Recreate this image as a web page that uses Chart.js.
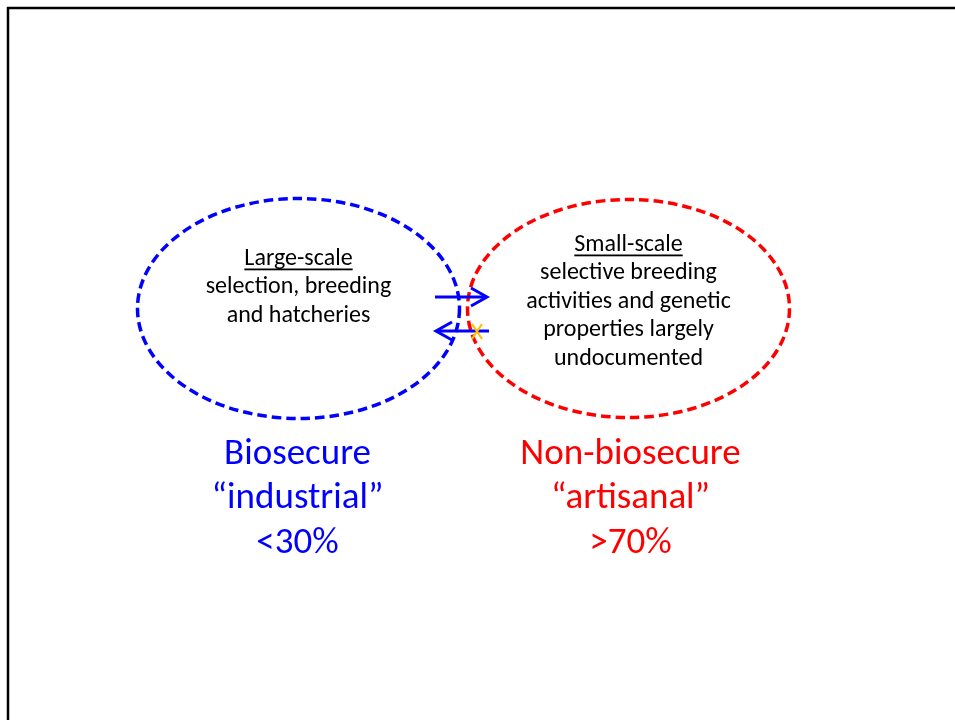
<!DOCTYPE html>
<html>
<head>
<meta charset="utf-8">
<script src="https://cdn.jsdelivr.net/npm/chart.js@4"></script>
<style>
  html, body { margin: 0; padding: 0; background: #ffffff; }
  #wrap { position: relative; width: 955px; height: 720px; }
</style>
</head>
<body>
<div id="wrap"><canvas id="c" width="955" height="720"></canvas></div>
<script>
// ---- data ----
const groups = ['Biosecure', 'Non-biosecure'];
const groupQualifiers = ['\u201Cindustrial\u201D', '\u201Cartisanal\u201D'];
const shares = ['<30%', '>70%'];
const scaleHeadings = ['Large-scale', 'Small-scale'];
const descriptions = [
  ['selection, breeding', 'and hatcheries'],
  ['selective breeding', 'activities and genetic', 'properties largely', 'undocumented']
];

// ---- layout / style (not data) ----
const FONT = 'Carlito, Calibri, Lato, "Open Sans", sans-serif';
const groupColors = ['#0000FF', '#FF0000'];
const ellipses = [
  { cx: 298.5, cy: 308.5, rx: 161, ry: 110 },
  { cx: 628.5, cy: 308.5, rx: 161, ry: 109 }
];
const innerTop = [258.5, 244.5];
const innerStep = 28.5;
const labelTop = 454.5;
const labelStep = 44.5;

const diagramPlugin = {
  id: 'diagram',
  afterDraw(chart) {
    const ctx = chart.ctx;
    const xs = chart.scales.x, ys = chart.scales.y;
    const px = v => xs.getPixelForValue(v);
    const py = v => ys.getPixelForValue(v);
    ctx.save();

    // slide frame
    ctx.strokeStyle = '#000000';
    ctx.lineWidth = 2.5;
    ctx.setLineDash([]);
    ctx.beginPath();
    ctx.moveTo(px(8), py(720));
    ctx.lineTo(px(8), py(8));
    ctx.lineTo(px(955), py(8));
    ctx.stroke();

    // dashed ellipses
    groups.forEach((g, i) => {
      const e = ellipses[i];
      const cx = px(e.cx), cy = py(e.cy);
      const rx = Math.abs(px(e.cx + e.rx) - cx), ry = Math.abs(py(e.cy + e.ry) - cy);
      ctx.strokeStyle = groupColors[i];
      ctx.lineWidth = 3.5;
      ctx.setLineDash([9.5, 5]);
      ctx.beginPath();
      ctx.ellipse(cx, cy, rx, ry, 0, 0, Math.PI * 2);
      ctx.stroke();
    });
    ctx.setLineDash([]);

    // inner descriptions
    ctx.fillStyle = '#000000';
    ctx.textAlign = 'center';
    ctx.textBaseline = 'middle';
    groups.forEach((g, i) => {
      const e = ellipses[i];
      const lines = [scaleHeadings[i]].concat(descriptions[i]);
      ctx.font = '24px ' + FONT;
      lines.forEach((t, k) => {
        const x = px(e.cx), y = py(innerTop[i] + k * innerStep);
        ctx.fillText(t, x, y);
        if (k === 0) {
          const w = ctx.measureText(t).width;
          ctx.fillRect(x - w / 2, y + 10, w, 1.8);
        }
      });
    });

    // big labels
    groups.forEach((g, i) => {
      const e = ellipses[i];
      ctx.fillStyle = groupColors[i];
      ctx.font = '37px ' + FONT;
      [groups[i], groupQualifiers[i], shares[i]].forEach((t, k) => {
        ctx.fillText(t, px(e.cx + (i ? 2 : -1)), py(labelTop + k * labelStep));
      });
    });

    // flow arrows
    ctx.strokeStyle = '#0000FF';
    ctx.lineWidth = 3;
    ctx.lineCap = 'butt';
    ctx.lineJoin = 'miter';
    // right arrow
    ctx.beginPath();
    ctx.moveTo(px(435), py(297)); ctx.lineTo(px(486), py(297));
    ctx.stroke();
    ctx.beginPath();
    ctx.moveTo(px(471), py(288)); ctx.lineTo(px(487), py(297)); ctx.lineTo(px(471), py(306));
    ctx.stroke();
    // left arrow
    ctx.beginPath();
    ctx.moveTo(px(437), py(331)); ctx.lineTo(px(489), py(331));
    ctx.stroke();
    ctx.beginPath();
    ctx.moveTo(px(452), py(322)); ctx.lineTo(px(436), py(331)); ctx.lineTo(px(452), py(340));
    ctx.stroke();
    // blocked mark
    ctx.strokeStyle = '#FFC000';
    ctx.lineWidth = 2.2;
    ctx.beginPath();
    ctx.moveTo(px(472), py(324)); ctx.lineTo(px(482), py(339));
    ctx.moveTo(px(482), py(324)); ctx.lineTo(px(472), py(339));
    ctx.stroke();

    ctx.restore();
  }
};

new Chart(document.getElementById('c'), {
  type: 'scatter',
  data: {
    datasets: groups.map((g, i) => ({
      label: g,
      data: [{ x: ellipses[i].cx, y: ellipses[i].cy }],
      pointRadius: 0,
      showLine: false
    }))
  },
  options: {
    responsive: false,
    animation: false,
    events: [],
    layout: { padding: 0 },
    plugins: { legend: { display: false }, tooltip: { enabled: false }, title: { display: false } },
    scales: {
      x: { type: 'linear', min: 0, max: 955, display: false },
      y: { type: 'linear', min: 0, max: 720, reverse: true, display: false }
    }
  },
  plugins: [diagramPlugin]
});
</script>
</body>
</html>
